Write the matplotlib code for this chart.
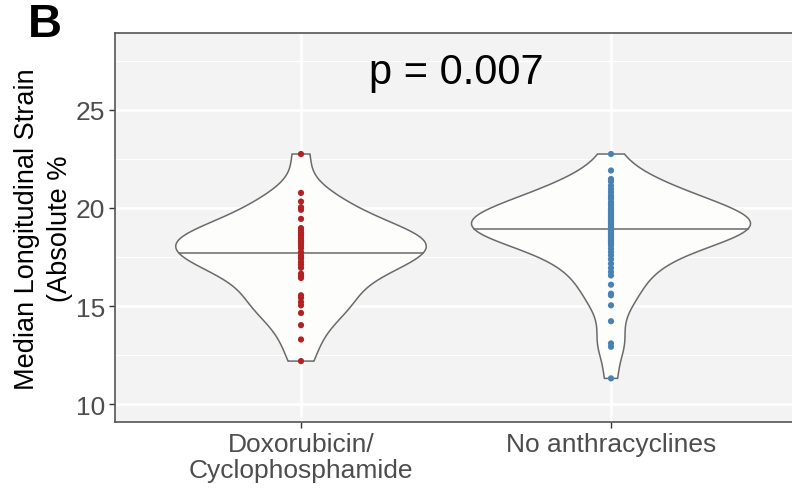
import numpy as np
import matplotlib
matplotlib.use("Agg")
import matplotlib.pyplot as plt

plt.rcParams['font.family'] = ['Liberation Sans', 'DejaVu Sans']

categories = ["Doxorubicin/\nCyclophosphamide", "No anthracyclines"]

dox_cyc = [22.74, 20.76, 20.32, 20.03, 19.90, 19.44, 18.97, 18.85, 18.73, 18.65,
           18.59, 18.46, 18.34, 18.28, 18.22, 18.09, 17.95, 17.75, 17.58, 17.50,
           17.41, 17.24, 17.11, 16.95, 16.65, 16.53, 16.43, 15.55, 15.42, 15.21,
           15.04, 14.65, 14.03, 13.30, 12.20]

no_anthra = [22.74, 21.90, 21.47, 21.34, 21.13, 20.96, 20.80, 20.63, 20.55, 20.46,
             20.29, 20.20, 20.12, 19.98, 19.92, 19.86, 19.75, 19.70, 19.61, 19.55,
             19.48, 19.42, 19.36, 19.30, 19.24, 19.18, 19.10, 19.05, 18.97, 18.90,
             18.85, 18.80, 18.73, 18.65, 18.59, 18.50, 18.43, 18.35, 18.26, 18.20,
             18.09, 17.92, 17.75, 17.58, 17.38, 17.16, 16.94, 16.74, 16.56, 16.09,
             15.63, 15.55, 15.04, 14.23, 13.10, 12.93, 11.32]

groups = [dox_cyc, no_anthra]
point_colors = ["#B22222", "#4682B4"]
p_label = "p = 0.007"


def nrd0(x):
    x = np.asarray(x)
    sd = np.std(x, ddof=1)
    iqr = np.subtract(*np.percentile(x, [75, 25]))
    lo = min(sd, iqr / 1.34)
    return 0.9 * lo * len(x) ** (-0.2)


def kde(x, adjust=1.25, n=512):
    x = np.asarray(x)
    bw = nrd0(x) * adjust
    grid = np.linspace(x.min(), x.max(), n)
    z = (grid[:, None] - x[None, :]) / bw
    dens = np.exp(-0.5 * z ** 2).sum(axis=1) / (len(x) * bw * np.sqrt(2 * np.pi))
    return grid, dens


W, H = 792, 489
fig = plt.figure(figsize=(W / 100, H / 100), dpi=100)
left, right, top, bottom = 115, 797, 34, 423
ax = fig.add_axes([left / W, 1 - bottom / H, (right - left) / W, (bottom - top) / H])

ax.set_facecolor("#F3F3F3")
ax.set_xlim(0.4, 2.6)
ax.set_ylim(9.1, 28.9)

# grid
for y in [12.5, 17.5, 22.5, 27.5]:
    ax.axhline(y, color="white", lw=0.8, zorder=0)
for y in [10, 15, 20, 25]:
    ax.axhline(y, color="white", lw=1.8, zorder=0)
for x in [1, 2]:
    ax.axvline(x, color="white", lw=1.8, zorder=0)

dens_list = [kde(g) for g in groups]
dmax = max(d.max() for _, d in dens_list)

for i, (g, (grid, dens)) in enumerate(zip(groups, dens_list)):
    xc = i + 1
    half = 0.45 * dens / dmax
    xs = np.concatenate([xc - half, (xc + half)[::-1]])
    ys = np.concatenate([grid, grid[::-1]])
    ax.fill(xs, ys, facecolor="#FDFDFC", edgecolor="#6A6A6A", lw=1.1, zorder=2)
    # median line from the density
    cdf = np.cumsum(dens)
    cdf = cdf / cdf[-1]
    ym = np.interp(0.5, cdf, grid)
    hm = np.interp(ym, grid, half)
    ax.plot([xc - hm, xc + hm], [ym, ym], color="#6A6A6A", lw=1.1, zorder=3)
    ax.scatter(np.full(len(g), xc), g, s=20, color=point_colors[i],
               edgecolors="none", zorder=4)

ax.text(1.5, 26.9, p_label, ha="center", va="center", fontsize=30, color="black")

ax.set_xticks([1, 2])
ax.set_xticklabels(categories, fontsize=19, color="#4D4D4D", linespacing=1.1)
ax.set_yticks([10, 15, 20, 25])
ax.set_yticklabels(["10", "15", "20", "25"], fontsize=19, color="#4D4D4D")
ax.tick_params(axis="both", length=4, width=1, color="#333333", pad=3)

for side, sp in ax.spines.items():
    sp.set_color("#555555")
    sp.set_linewidth(1.2)

fig.text(27 / W, 1 - 229 / H, "Median Longitudinal Strain", rotation=90,
         ha="center", va="center", fontsize=19.5, color="black")
fig.text(60 / W, 1 - 229 / H, "(Absolute %", rotation=90,
         ha="center", va="center", fontsize=19.5, color="black")

fig.text(45 / W, 1 - 25 / H, "B", ha="center", va="center", fontsize=34,
         fontweight="bold", color="black")

fig.savefig("out.png", dpi=100)
